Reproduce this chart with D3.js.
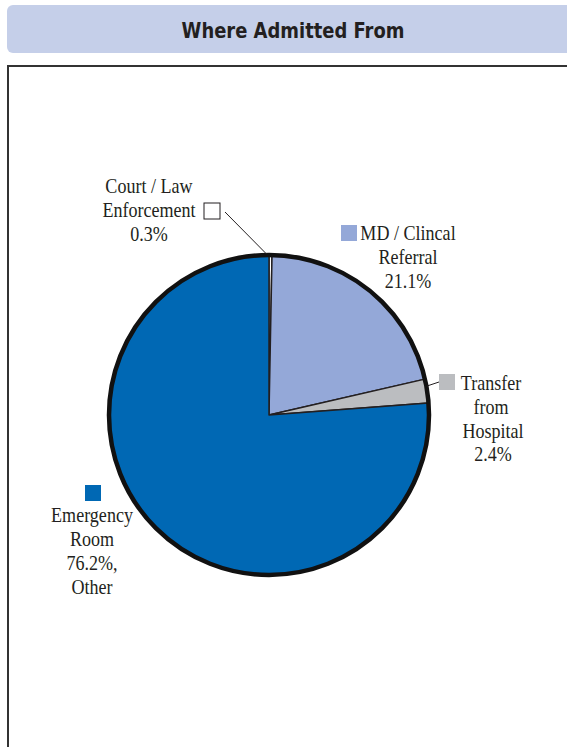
<!DOCTYPE html>
<html><head><meta charset="utf-8">
<script src="https://cdn.jsdelivr.net/npm/d3@7"></script>
<style>
html,body{margin:0;padding:0;background:#fff;}
svg{display:block;}
</style></head>
<body>
<svg id="chart" width="567" height="747"></svg>
<script>
const title = "Where Admitted From";
const categories = ["Court / Law Enforcement", "MD / Clincal Referral", "Transfer from Hospital", "Emergency Room, Other"];
const values = [0.3, 21.1, 2.4, 76.2];
const colors = ["#ffffff", "#94a8d8", "#bbbdc0", "#0068b4"];
const labelLines = [
  ["Court / Law", "Enforcement", "0.3%"],
  ["MD / Clincal", "Referral", "21.1%"],
  ["Transfer", "from", "Hospital", "2.4%"],
  ["Emergency", "Room", "76.2%,", "Other"]
];

const svg = d3.select("#chart");

// Title band
svg.append("rect").attr("x", 7).attr("y", 5).attr("width", 580).attr("height", 48)
  .attr("rx", 6).attr("fill", "#c5cfe9");
svg.append("text")
  .attr("transform", "translate(293,38) scale(0.95,1)")
  .attr("text-anchor", "middle")
  .attr("font-family", "'DejaVu Sans Condensed','DejaVu Sans',sans-serif")
  .attr("font-stretch", "condensed")
  .attr("font-weight", "bold").attr("font-size", 21).attr("fill", "#231f20")
  .text(title);

// Panel border
svg.append("rect").attr("x", 8).attr("y", 66).attr("width", 620).attr("height", 720)
  .attr("fill", "none").attr("stroke", "#333").attr("stroke-width", 2);

// Pie
const cx = 269, cy = 415, R = 160;
const pie = d3.pie().sort(null).value(d => d).startAngle(0).endAngle(2 * Math.PI);
const arcs = pie(values);
const arc = d3.arc().innerRadius(0).outerRadius(R);
const g = svg.append("g").attr("transform", `translate(${cx},${cy})`);
g.selectAll("path.slice").data(arcs).join("path").attr("class", "slice")
  .attr("d", arc).attr("fill", (d, i) => colors[i])
  .attr("stroke", "#231f20").attr("stroke-width", 1.5).attr("stroke-linejoin", "round");
g.append("circle").attr("r", R).attr("fill", "none").attr("stroke", "#111").attr("stroke-width", 4.5);

// Legend boxes + labels
const boxes = [
  {x: 204, y: 203},
  {x: 341, y: 225},
  {x: 439, y: 374},
  {x: 85, y: 485}
];
boxes.forEach((b, i) => {
  svg.append("rect").attr("x", b.x).attr("y", b.y).attr("width", 16).attr("height", 16)
    .attr("fill", colors[i]).attr("stroke", i === 0 ? "#231f20" : "none").attr("stroke-width", 1);
});

const labelPos = [
  [{x: 149, y: 193}, {x: 149, y: 217}, {x: 149, y: 241}],
  [{x: 408, y: 240}, {x: 408, y: 264}, {x: 408, y: 288}],
  [{x: 491, y: 390}, {x: 491, y: 414}, {x: 493, y: 438}, {x: 493, y: 461}],
  [{x: 92, y: 522}, {x: 92, y: 546}, {x: 92, y: 570}, {x: 92, y: 594}]
];
labelLines.forEach((lines, i) => {
  lines.forEach((t, j) => {
    const p = labelPos[i][j];
    svg.append("text")
      .attr("transform", `translate(${p.x},${p.y}) scale(0.86,1)`)
      .attr("text-anchor", "middle")
      .attr("font-family", "'Liberation Serif','Times New Roman',serif")
      .attr("font-size", 21).attr("fill", "#231f20")
      .text(t);
  });
});

// Leader lines from slice edge to legend box
function edgePoint(i) {
  const a = (arcs[i].startAngle + arcs[i].endAngle) / 2;
  return [cx + R * Math.sin(a), cy - R * Math.cos(a)];
}
const p0 = edgePoint(0);
svg.append("line").attr("x1", 225).attr("y1", 212).attr("x2", p0[0] - 4).attr("y2", p0[1] - 1)
  .attr("stroke", "#231f20").attr("stroke-width", 1);
const p2 = edgePoint(2);
svg.append("line").attr("x1", p2[0]).attr("y1", p2[1] - 5).attr("x2", 439).attr("y2", 382)
  .attr("stroke", "#231f20").attr("stroke-width", 1);
</script>
</body></html>
